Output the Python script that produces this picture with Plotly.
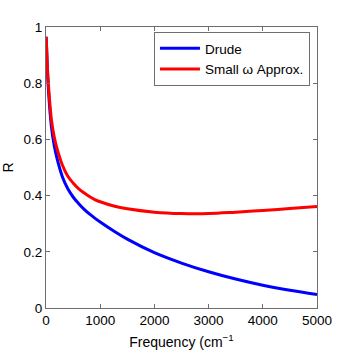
import plotly.graph_objects as go

freq = [3, 10, 25, 50, 100, 150, 200, 300, 400, 500, 600, 700, 800, 900, 1000, 1250, 1500,
        2000, 2500, 3000, 3500, 4000, 4500, 5000]

drude = [0.965, 0.93, 0.85, 0.76, 0.645, 0.58, 0.535, 0.468, 0.425, 0.395, 0.372, 0.352, 0.335,
         0.320, 0.306, 0.274, 0.245, 0.197, 0.160, 0.129, 0.103, 0.081, 0.063, 0.048]

small_w = [0.965, 0.935, 0.86, 0.78, 0.67, 0.61, 0.57, 0.51, 0.47, 0.445, 0.425, 0.41, 0.397,
           0.386, 0.378, 0.363, 0.353, 0.341, 0.336, 0.336, 0.341, 0.347, 0.354, 0.361]

x_ticks = [0, 1000, 2000, 3000, 4000, 5000]
y_ticks = [0, 0.2, 0.4, 0.6, 0.8, 1]
y_tick_text = ["0", "0.2", "0.4", "0.6", "0.8", "1"]

fig = go.Figure()
fig.add_trace(go.Scatter(x=freq, y=drude, mode="lines", name="Drude",
                         line=dict(color="#0000ff", width=3, shape="spline")))
fig.add_trace(go.Scatter(x=freq, y=small_w, mode="lines", name="Small ω Approx.",
                         line=dict(color="#ff0000", width=3, shape="spline")))

axis_common = dict(showgrid=False, zeroline=False, showline=True, linecolor="#6e6e6e",
                   linewidth=1, mirror="ticks", ticks="inside", ticklen=4,
                   tickcolor="#6e6e6e", tickfont=dict(size=13.5, color="black"),
                   automargin=False)

fig.update_xaxes(range=[0, 5000], tickvals=x_ticks,
                 title=dict(text="Frequency (cm<sup>−1</sup>",
                            font=dict(size=14, color="black")),
                 **axis_common)
fig.update_yaxes(range=[0, 1], tickvals=y_ticks, ticktext=y_tick_text,
                 title=dict(text="R", font=dict(size=14, color="black")),
                 **axis_common)

fig.update_layout(
    width=350, height=350,
    margin=dict(l=46, r=33, t=27, b=42),
    paper_bgcolor="white", plot_bgcolor="white",
    font=dict(family="Liberation Sans, Arial, sans-serif", size=13, color="black"),
    showlegend=True,
    legend=dict(x=0.974, y=0.982, xanchor="right", yanchor="top",
                bgcolor="white", bordercolor="#6e6e6e", borderwidth=1,
                font=dict(size=13.5), tracegroupgap=0, itemwidth=40),
)

fig.write_html("out.html", config={"displayModeBar": False},
               post_script="document.body.style.margin='0';document.body.style.overflow='hidden';")
